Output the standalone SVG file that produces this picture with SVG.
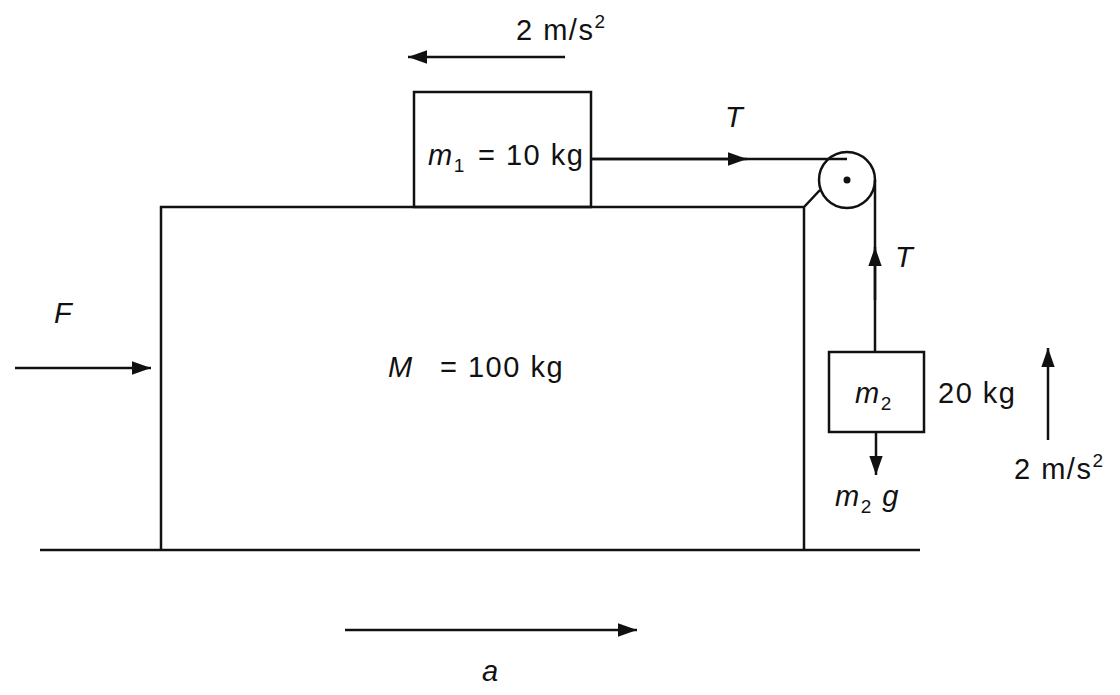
<svg xmlns="http://www.w3.org/2000/svg" width="1120" height="695" viewBox="0 0 1120 695">
<style>
.l{stroke:#111;stroke-width:2.5;fill:none}
text{font-family:"Liberation Sans",Arial,sans-serif;font-size:29px;letter-spacing:1.5px;fill:#111}
.i{font-style:italic}
</style>
<defs>
<marker id="a" viewBox="0 0 10 10" refX="10" refY="5" markerWidth="19" markerHeight="19" orient="auto" markerUnits="userSpaceOnUse"><path d="M0,1.5 L10,5 L0,8.5 z" fill="#111"/></marker>
</defs>
<rect width="1120" height="695" fill="#fff"/>
<g id="ground"><line class="l" x1="40" y1="550" x2="920" y2="550"/></g>
<g id="M"><path class="l" d="M161,550 V207 H804 L820,190 M804,207 V550"/>
<text x="388" y="377" font-size="33" letter-spacing="2"><tspan class="i">M</tspan><tspan x="440">= 100 kg</tspan></text></g>
<g id="m1"><rect class="l" x="414" y="92" width="177" height="115"/>
<text x="428" y="165"><tspan class="i">m</tspan><tspan font-size="19" dy="7">1</tspan><tspan dy="-7" x="478">= 10 kg</tspan></text></g>
<g id="pulley"><circle class="l" cx="847" cy="180" r="28"/><circle cx="847" cy="180" r="3.5" fill="#111"/></g>
<g id="m2"><rect class="l" x="829" y="352" width="95" height="80"/>
<text x="855" y="403"><tspan class="i">m</tspan><tspan font-size="19" dy="7">2</tspan></text>
<text x="938" y="403">20 kg</text></g>
<g id="connectors">
<line class="l" x1="591" y1="159" x2="847" y2="159"/>
<line class="l" x1="591" y1="159" x2="747" y2="159" marker-end="url(#a)"/>
<line class="l" x1="875" y1="180" x2="875" y2="352"/>
<line class="l" x1="875" y1="300" x2="875" y2="247" marker-end="url(#a)"/>
<line class="l" x1="876" y1="432" x2="876" y2="475" marker-end="url(#a)"/>
<line class="l" x1="565" y1="57" x2="408" y2="57" marker-end="url(#a)"/>
<line class="l" x1="15" y1="368" x2="151" y2="368" marker-end="url(#a)"/>
<line class="l" x1="1048" y1="440" x2="1048" y2="348" marker-end="url(#a)"/>
<line class="l" x1="345" y1="630" x2="637" y2="630" marker-end="url(#a)"/>
</g>
<g id="labels">
<text x="516" y="40">2 m/s<tspan font-size="19" dy="-12">2</tspan></text>
<text class="i" x="725" y="127">T</text>
<text class="i" x="895" y="267">T</text>
<text class="i" x="54" y="323">F</text>
<text x="835" y="506"><tspan class="i">m</tspan><tspan font-size="19" dy="7">2</tspan><tspan class="i" dy="-7"> g</tspan></text>
<text x="1014" y="479">2 m/s<tspan font-size="19" dy="-12">2</tspan></text>
<text class="i" x="482" y="681">a</text>
</g>
</svg>
